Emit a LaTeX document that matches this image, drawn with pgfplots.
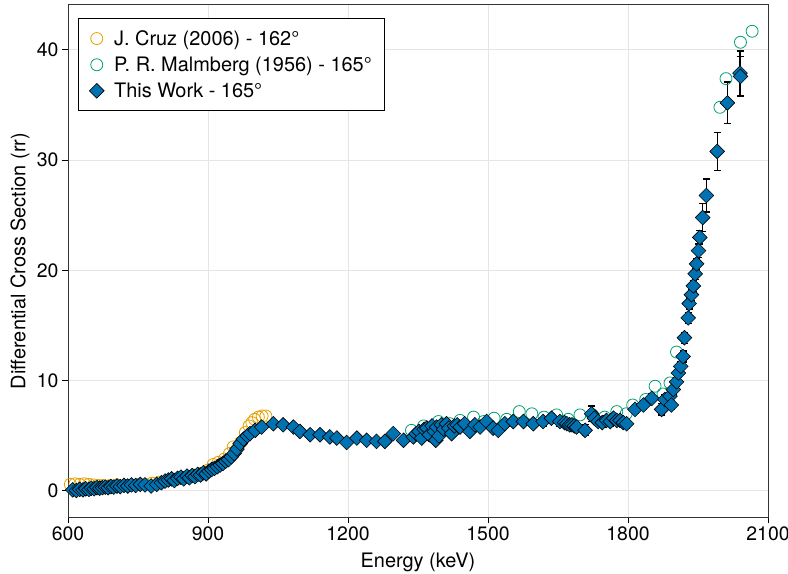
\documentclass[border=0pt]{standalone}
\usepackage{fontspec}
\setmainfont{TeX Gyre Heros}
\usepackage{pgfplots}
\usepackage{pgfplotstable}
\pgfplotsset{compat=1.18}
\definecolor{cruz}{HTML}{E69F00}
\definecolor{malm}{HTML}{009E73}
\definecolor{tw}{HTML}{0072B2}

\pgfplotstableread{
E s
605 0.60
615 0.65
625 0.60
635 0.65
645 0.60
655 0.55
665 0.50
675 0.50
690 0.50
705 0.55
720 0.50
735 0.55
750 0.60
765 0.60
780 0.70
795 0.80
810 0.90
825 1.00
840 1.15
855 1.30
870 1.45
885 1.60
900 1.90
911 2.40
922 2.60
935 2.90
946 3.40
954 4.00
962 3.80
970 4.40
980 5.30
988 5.90
994 6.20
1000 6.50
1008 6.70
1016 6.80
1024 6.80
}\cruzdata

\pgfplotstableread{
E s
1336 5.5
1362 5.9
1394 6.3
1418 6.1
1440 6.4
1469 6.7
1491 6.3
1513 6.6
1540 6.5
1567 7.2
1594 7.0
1620 6.7
1647 6.9
1672 6.5
1697 6.9
1724 6.9
1750 6.7
1776 7.2
1796 7.0
1810 7.8
1838 8.3
1858 9.5
1875 8.8
1890 9.8
1904 12.6
1997 34.8
2010 37.4
2041 40.7
2066 41.7
}\malmdata

\pgfplotstableread{
E s err
610 0.10 0.15
618 0.05 0.15
625 0.15 0.15
632 0.10 0.15
638 0.20 0.15
645 0.15 0.15
650 0.25 0.15
656 0.20 0.15
662 0.30 0.15
668 0.25 0.15
674 0.30 0.15
680 0.35 0.15
686 0.30 0.15
692 0.40 0.15
698 0.35 0.15
705 0.45 0.15
712 0.40 0.15
720 0.50 0.15
728 0.45 0.15
736 0.55 0.15
745 0.50 0.15
755 0.60 0.15
765 0.55 0.15
778 0.45 0.15
790 0.60 0.15
800 0.75 0.15
808 0.90 0.15
815 1.00 0.15
822 1.10 0.15
828 0.95 0.15
835 1.15 0.15
842 1.25 0.15
848 1.10 0.15
855 1.35 0.15
860 1.20 0.15
866 1.40 0.15
872 1.30 0.15
878 1.50 0.15
884 1.45 0.15
890 1.65 0.15
896 1.55 0.15
902 1.80 0.2
908 1.95 0.2
914 2.05 0.2
920 2.20 0.2
926 2.35 0.2
932 2.50 0.2
938 2.70 0.2
944 2.85 0.2
950 3.10 0.2
956 3.40 0.2
962 3.80 0.2
969 4.30 0.2
976 4.70 0.2
984 5.00 0.2
990 5.20 0.2
1001 5.50 0.2
1015 5.80 0.2
1040 6.10 0.2
1061 6.00 0.2
1083 5.80 0.2
1097 5.40 0.2
1119 5.10 0.2
1140 5.10 0.2
1161 4.90 0.2
1176 4.80 0.2
1197 4.40 0.2
1219 4.80 0.2
1240 4.60 0.2
1261 4.50 0.2
1279 4.50 0.2
1297 5.20 0.3
1319 4.60 0.3
1340 4.90 0.3
1346 5.20 0.3
1352 5.40 0.3
1358 4.80 0.3
1363 5.60 0.3
1369 5.70 0.3
1374 5.10 0.3
1380 5.90 0.3
1385 5.40 0.3
1388 4.60 0.3
1390 5.80 0.3
1395 5.00 0.3
1400 6.00 0.3
1405 5.60 0.3
1411 6.10 0.3
1416 5.70 0.3
1422 5.20 0.3
1428 5.90 0.3
1434 6.00 0.3
1440 5.80 0.3
1450 6.10 0.3
1461 5.40 0.3
1472 6.00 0.3
1483 5.80 0.3
1497 6.30 0.4
1511 5.70 0.3
1522 5.50 0.3
1536 6.10 0.3
1554 6.30 0.3
1576 6.30 0.3
1597 6.10 0.3
1618 6.30 0.4
1636 6.60 0.4
1654 6.30 0.4
1664 6.20 0.4
1669 6.10 0.4
1675 6.00 0.4
1680 6.00 0.4
1685 5.90 0.4
1690 5.80 0.4
1708 5.50 0.5
1722 7.00 0.7
1728 6.60 0.4
1736 6.30 0.4
1745 6.20 0.4
1754 6.40 0.4
1762 6.30 0.4
1769 6.60 0.4
1776 6.40 0.4
1783 6.40 0.4
1790 6.20 0.4
1797 6.10 0.4
1815 7.40 0.4
1833 7.80 0.4
1851 8.40 0.4
1872 7.40 0.5
1879 8.30 0.4
1890 8.60 0.4
1893 7.80 0.4
1897 9.20 0.4
1904 9.90 0.4
1908 10.70 0.4
1913 11.30 0.4
1918 12.20 0.5
1921 13.90 0.5
1929 15.70 0.5
1931 17.00 0.5
1936 17.80 0.5
1940 18.60 0.5
1944 19.70 0.5
1947 20.60 0.5
1951 21.80 0.6
1954 23.00 0.6
1960 24.80 1.3
1968 26.80 1.5
1991 30.80 1.7
2013 35.20 1.9
2040 37.90 2.0
2041 37.60 1.8
}\twdata

\begin{document}
\begin{tikzpicture}
\useasboundingbox (0,0) rectangle (788bp,574bp);
\begin{axis}[
  at={(68bp,57bp)}, anchor=south west,
  scale only axis, width=700bp, height=512bp,
  xmin=600, xmax=2100, ymin=-2.36, ymax=44.08,
  xtick={600,900,...,2100}, ytick={0,10,...,40},
  xtick pos=bottom, ytick pos=left,
  tick align=outside, major tick length=6bp,
  tick style={black, line width=1bp},
  axis line style={black!80, line width=1bp},
  grid=major, grid style={black!10, line width=1bp},
  /pgf/number format/assume math mode=true,
  /pgf/number format/set thousands separator={},
  ticklabel style={font=\fontsize{19.5}{23}\selectfont},
  label style={font=\fontsize{20}{24}\selectfont},
  xlabel={Energy (keV)},
  ylabel={Differential Cross Section (rr)},
  xlabel style={at={(axis description cs:0.5,-0.0879)}, anchor=center},
  ylabel style={at={(axis description cs:-0.0686,0.5)}, anchor=center},
  legend style={at={(axis description cs:0.0143,0.9746)}, anchor=north west,
    draw=black, line width=0.8bp, fill=white,
    font=\fontsize{20}{24}\selectfont, row sep=6bp,
    inner xsep=11bp, inner ysep=10bp,
    /tikz/every odd column/.append style={column sep=8bp}},
  legend cell align=left,
]
\addplot[only marks, mark=o, mark size=6bp, draw=cruz, mark options={line width=0.8bp}] table[x=E,y=s]{\cruzdata};
\addlegendentry{J. Cruz (2006) - 162°}
\addplot[only marks, mark=o, mark size=6bp, draw=malm, mark options={line width=0.8bp}] table[x=E,y=s]{\malmdata};
\addlegendentry{P. R. Malmberg (1956) - 165°}
\addplot[draw=none, mark=none, forget plot,
  error bars/.cd, y dir=both, y explicit,
  error bar style={black, line width=1.2bp},
  error mark options={rotate=90, mark size=3.5bp, black, line width=1.2bp}]
  table[x=E,y=s,y error=err]{\twdata};
\addplot[only marks, mark=square*, mark size=5.2bp,
  mark options={rotate=45, fill=tw, draw=black, line width=0.6bp}] table[x=E,y=s]{\twdata};
\addlegendentry{This Work - 165°}
\end{axis}
\end{tikzpicture}
\end{document}
